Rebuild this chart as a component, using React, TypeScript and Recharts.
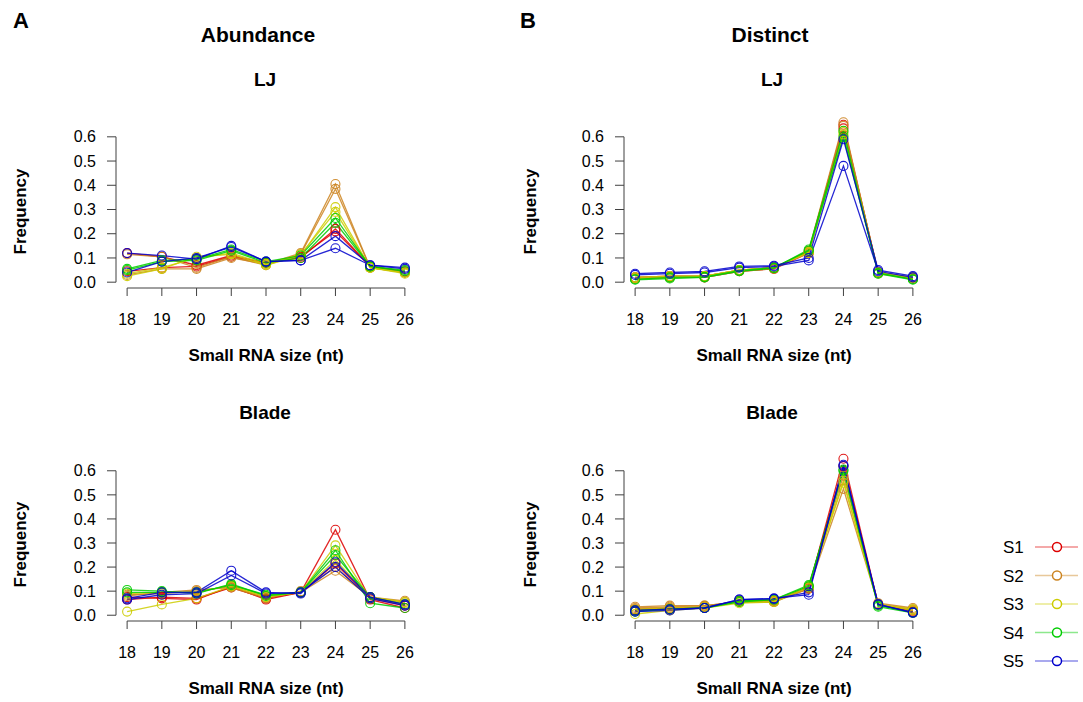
import { LineChart, Line, XAxis, YAxis, ReferenceLine } from 'recharts';

const sizes = [18, 19, 20, 21, 22, 23, 24, 25, 26];
const yTicks = [0, 0.1, 0.2, 0.3, 0.4, 0.5, 0.6];
const samples = ['S1', 'S2', 'S3', 'S4', 'S5'];
const colors = ['#DD0000', '#CC8420', '#CCCC00', '#00CC00', '#0000CC'];

// two replicate libraries per sample: S1a, S1b, S2a, S2b ... S5b
const abundanceLJ = [
  [0.12, 0.105, 0.07, 0.11, 0.08, 0.1, 0.22, 0.065, 0.045],
  [0.045, 0.06, 0.065, 0.105, 0.08, 0.105, 0.21, 0.065, 0.04],
  [0.03, 0.055, 0.055, 0.1, 0.075, 0.12, 0.405, 0.06, 0.04],
  [0.115, 0.105, 0.06, 0.105, 0.07, 0.115, 0.385, 0.06, 0.04],
  [0.025, 0.055, 0.105, 0.115, 0.07, 0.11, 0.31, 0.06, 0.035],
  [0.035, 0.06, 0.1, 0.12, 0.075, 0.115, 0.29, 0.06, 0.04],
  [0.055, 0.09, 0.095, 0.135, 0.085, 0.11, 0.265, 0.065, 0.05],
  [0.05, 0.085, 0.09, 0.13, 0.08, 0.1, 0.245, 0.065, 0.045],
  [0.12, 0.11, 0.095, 0.15, 0.085, 0.09, 0.19, 0.07, 0.06],
  [0.04, 0.085, 0.1, 0.145, 0.085, 0.09, 0.14, 0.07, 0.055],
];

const distinctLJ = [
  [0.02, 0.025, 0.025, 0.05, 0.06, 0.125, 0.65, 0.04, 0.015],
  [0.015, 0.02, 0.02, 0.045, 0.055, 0.12, 0.635, 0.04, 0.015],
  [0.015, 0.02, 0.02, 0.045, 0.055, 0.13, 0.66, 0.035, 0.015],
  [0.02, 0.025, 0.025, 0.05, 0.06, 0.125, 0.645, 0.04, 0.02],
  [0.015, 0.02, 0.025, 0.05, 0.06, 0.125, 0.62, 0.04, 0.015],
  [0.02, 0.025, 0.025, 0.05, 0.06, 0.12, 0.61, 0.04, 0.02],
  [0.01, 0.015, 0.02, 0.045, 0.058, 0.135, 0.625, 0.035, 0.01],
  [0.012, 0.02, 0.022, 0.048, 0.06, 0.13, 0.6, 0.038, 0.012],
  [0.035, 0.04, 0.045, 0.065, 0.068, 0.1, 0.59, 0.05, 0.025],
  [0.03, 0.035, 0.04, 0.06, 0.065, 0.09, 0.48, 0.045, 0.02],
];

const abundanceBlade = [
  [0.075, 0.07, 0.065, 0.12, 0.065, 0.095, 0.355, 0.065, 0.03],
  [0.065, 0.075, 0.07, 0.115, 0.07, 0.095, 0.215, 0.07, 0.04],
  [0.08, 0.095, 0.105, 0.115, 0.07, 0.1, 0.2, 0.07, 0.055],
  [0.085, 0.09, 0.1, 0.12, 0.075, 0.095, 0.185, 0.075, 0.06],
  [0.015, 0.045, 0.07, 0.12, 0.075, 0.095, 0.29, 0.07, 0.05],
  [0.09, 0.095, 0.095, 0.125, 0.08, 0.095, 0.23, 0.075, 0.055],
  [0.105, 0.1, 0.09, 0.13, 0.08, 0.095, 0.27, 0.05, 0.03],
  [0.095, 0.095, 0.095, 0.125, 0.085, 0.095, 0.25, 0.075, 0.045],
  [0.07, 0.095, 0.095, 0.185, 0.095, 0.09, 0.22, 0.075, 0.045],
  [0.065, 0.085, 0.09, 0.165, 0.09, 0.095, 0.2, 0.07, 0.04],
];

const distinctBlade = [
  [0.02, 0.025, 0.03, 0.06, 0.06, 0.11, 0.65, 0.045, 0.015],
  [0.025, 0.03, 0.035, 0.06, 0.06, 0.115, 0.62, 0.045, 0.02],
  [0.035, 0.04, 0.04, 0.055, 0.055, 0.115, 0.58, 0.05, 0.03],
  [0.03, 0.035, 0.04, 0.055, 0.055, 0.11, 0.525, 0.045, 0.025],
  [0.005, 0.02, 0.03, 0.05, 0.055, 0.115, 0.56, 0.045, 0.02],
  [0.025, 0.03, 0.035, 0.055, 0.06, 0.12, 0.55, 0.045, 0.025],
  [0.02, 0.025, 0.03, 0.055, 0.065, 0.125, 0.6, 0.035, 0.01],
  [0.015, 0.025, 0.03, 0.06, 0.065, 0.12, 0.605, 0.04, 0.012],
  [0.015, 0.02, 0.03, 0.065, 0.07, 0.085, 0.625, 0.045, 0.01],
  [0.02, 0.025, 0.03, 0.065, 0.068, 0.095, 0.62, 0.045, 0.012],
];

const FONT = '"Liberation Sans", Arial, Helvetica, sans-serif';
const AXIS = '#404040';
const X_DOMAIN = [17.68, 26.32];
const Y_DOMAIN = [-0.024, 0.624];

function toRows(matrix: number[][]) {
  return sizes.map((s, i) => {
    const row: any = { size: s };
    matrix.forEach((vals, k) => {
      row['r' + k] = vals[i];
    });
    return row;
  });
}

function Label({ x, y, text, size, bold = true, rotate = false }: any) {
  return (
    <div
      style={{
        position: 'absolute',
        left: x - 150,
        top: y - size / 2,
        width: 300,
        height: size,
        lineHeight: size + 'px',
        textAlign: 'center',
        fontFamily: FONT,
        fontSize: size,
        fontWeight: bold ? 'bold' : 'normal',
        color: '#000',
        whiteSpace: 'nowrap',
        transform: rotate ? 'rotate(-90deg)' : undefined,
      }}
    >
      {text}
    </div>
  );
}

function Panel({ plotLeft, plotTop, plotH, matrix }: any) {
  const yw = 60;
  const xh = 60;
  const mt = 30;
  const mr = 10;
  const rows = toRows(matrix);
  return (
    <div style={{ position: 'absolute', left: plotLeft - yw, top: plotTop - mt }}>
      <LineChart
        width={yw + 300 + mr}
        height={mt + plotH + xh}
        data={rows}
        margin={{ top: mt, right: mr, left: 0, bottom: 0 }}
      >
        <XAxis
          dataKey="size"
          type="number"
          domain={X_DOMAIN}
          allowDataOverflow
          ticks={sizes}
          interval={0}
          axisLine={false}
          tickLine={{ stroke: AXIS }}
          tickSize={8}
          tickMargin={18}
          height={xh}
          tick={{ fill: '#000', fontSize: 16, fontFamily: FONT }}
        />
        <YAxis
          type="number"
          domain={Y_DOMAIN}
          allowDataOverflow
          ticks={yTicks}
          interval={0}
          axisLine={false}
          tickLine={{ stroke: AXIS }}
          tickSize={9}
          tickMargin={11}
          width={yw}
          tickFormatter={(v: number) => v.toFixed(1)}
          tick={{ fill: '#000', fontSize: 16, fontFamily: FONT }}
        />
        <ReferenceLine
          segment={[{ x: 18, y: Y_DOMAIN[0] }, { x: 26, y: Y_DOMAIN[0] }]}
          stroke={AXIS}
          strokeWidth={1}
          ifOverflow="visible"
        />
        <ReferenceLine
          segment={[{ x: X_DOMAIN[0], y: 0 }, { x: X_DOMAIN[0], y: 0.6 }]}
          stroke={AXIS}
          strokeWidth={1}
          ifOverflow="visible"
        />
        {matrix.map((_: number[], k: number) => {
          const c = colors[Math.floor(k / 2)];
          return (
            <Line
              key={k}
              dataKey={'r' + k}
              type="linear"
              stroke={c}
              strokeOpacity={0.85}
              strokeWidth={1.3}
              dot={{ r: 4.5, stroke: c, strokeWidth: 1.1, fill: 'none', strokeOpacity: 0.9 }}
              activeDot={false}
              isAnimationActive={false}
            />
          );
        })}
      </LineChart>
    </div>
  );
}

function Legend() {
  return (
    <svg width={110} height={160} style={{ position: 'absolute', left: 975, top: 530 }}>
      {samples.map((s, i) => {
        const y = 17 + i * 28.5;
        return (
          <g key={s}>
            <text x={28} y={y + 6} fontFamily={FONT} fontSize={17} fill="#000">
              {s}
            </text>
            <line x1={60} x2={103} y1={y} y2={y} stroke={colors[i]} strokeOpacity={0.45} strokeWidth={1.5} />
            <circle cx={82} cy={y} r={4.5} fill="#fff" stroke={colors[i]} strokeWidth={1.5} />
          </g>
        );
      })}
    </svg>
  );
}

export default function App() {
  return (
    <div style={{ position: 'absolute', left: 0, top: 0, width: 1083, height: 702, background: '#fff', overflow: 'hidden' }}>
      {/* peaks above 0.6 spill over the plot box, as in base R */}
      <style>{'.recharts-surface g[clip-path] { clip-path: none !important; }'}</style>
      <Label x={21} y={21} text="A" size={22} />
      <Label x={528} y={21} text="B" size={22} />
      <Label x={258} y={34} text="Abundance" size={21} />
      <Label x={770} y={34} text="Distinct" size={21} />
      <Label x={265} y={79} text="LJ" size={19} />
      <Label x={772} y={79} text="LJ" size={19} />
      <Label x={265} y={412} text="Blade" size={19} />
      <Label x={772} y={412} text="Blade" size={19} />

      <Panel plotLeft={116} plotTop={131} plotH={157} matrix={abundanceLJ} />
      <Panel plotLeft={624} plotTop={131} plotH={157} matrix={distinctLJ} />
      <Panel plotLeft={116} plotTop={465} plotH={156} matrix={abundanceBlade} />
      <Panel plotLeft={624} plotTop={465} plotH={156} matrix={distinctBlade} />

      <Label x={20} y={211} text="Frequency" size={17} rotate />
      <Label x={530} y={211} text="Frequency" size={17} rotate />
      <Label x={20} y={544} text="Frequency" size={17} rotate />
      <Label x={530} y={544} text="Frequency" size={17} rotate />
      <Label x={266} y={355} text="Small RNA size (nt)" size={17} />
      <Label x={774} y={355} text="Small RNA size (nt)" size={17} />
      <Label x={266} y={688} text="Small RNA size (nt)" size={17} />
      <Label x={774} y={688} text="Small RNA size (nt)" size={17} />

      <Legend />
    </div>
  );
}
